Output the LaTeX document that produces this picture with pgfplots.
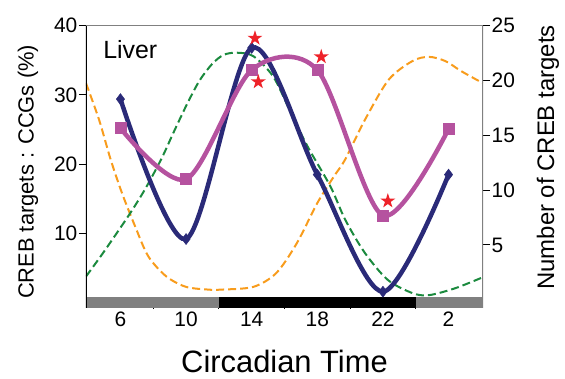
\documentclass[border=0pt]{standalone}
\usepackage{pgfplots}
\pgfplotsset{compat=1.18}
\usepackage{fontspec}
\setmainfont{Liberation Sans}
\definecolor{navy}{HTML}{2A2A78}
\definecolor{magen}{HTML}{B5529F}
\definecolor{dgreen}{HTML}{1B8A3E}
\definecolor{orng}{HTML}{F89C1C}
\definecolor{starred}{HTML}{EE2229}
\definecolor{bargray}{HTML}{808080}
\pgfdeclareplotmark{fstar}{%
  \pgfpathmoveto{\pgfqpoint{0pt}{\pgfplotmarksize}}%
  \pgfpathlineto{\pgfqpoint{-0.2245\pgfplotmarksize}{0.309\pgfplotmarksize}}%
  \pgfpathlineto{\pgfqpoint{-0.951\pgfplotmarksize}{0.309\pgfplotmarksize}}%
  \pgfpathlineto{\pgfqpoint{-0.363\pgfplotmarksize}{-0.118\pgfplotmarksize}}%
  \pgfpathlineto{\pgfqpoint{-0.588\pgfplotmarksize}{-0.809\pgfplotmarksize}}%
  \pgfpathlineto{\pgfqpoint{0pt}{-0.382\pgfplotmarksize}}%
  \pgfpathlineto{\pgfqpoint{0.588\pgfplotmarksize}{-0.809\pgfplotmarksize}}%
  \pgfpathlineto{\pgfqpoint{0.363\pgfplotmarksize}{-0.118\pgfplotmarksize}}%
  \pgfpathlineto{\pgfqpoint{0.951\pgfplotmarksize}{0.309\pgfplotmarksize}}%
  \pgfpathlineto{\pgfqpoint{0.2245\pgfplotmarksize}{0.309\pgfplotmarksize}}%
  \pgfpathclose\pgfusepathqfill}
\pgfplotsset{
  common/.style={
    scale only axis, width=397bp, height=282.3bp,
    xmin=3.9, xmax=28.1,
    tick align=outside, major tick length=7bp,
    tick style={black, line width=1bp},
    /pgf/number format/assume math mode=true,
    tick label style={font=\fontsize{21}{21}\selectfont},
    axis line style={draw=none},
  }
}
\begin{document}
\begin{tikzpicture}
\begin{axis}[common, name=ax,
  ymin=-0.75, ymax=40,
  ytick={10,20,30,40}, ytick pos=left,
  xtick={6,10,14,18,22,26}, xticklabels={6,10,14,18,22,2},
  xtick pos=bottom, xtick style={draw=none},
  yticklabel style={inner sep=1.5bp},
  xticklabel style={inner sep=1bp, yshift=4bp},
  ylabel={CREB targets : CCGs (\%)},
  ylabel style={font=\fontsize{22}{22}\selectfont, at={(axis description cs:-0.146,0.482)}, anchor=center},
  xlabel={Circadian Time},
  xlabel style={font=\fontsize{31}{31}\selectfont, at={(axis description cs:0.5,-0.229)}, anchor=base, inner sep=0pt},
  clip=true,
]
% light/dark bar
\addplot[fill=bargray, draw=none] coordinates {(3.9,-0.75) (3.9,0.85) (12,0.85) (12,-0.75)} -- cycle;
\addplot[fill=black, draw=none] coordinates {(12,-0.75) (12,0.85) (24,0.85) (24,-0.75)} -- cycle;
\addplot[fill=bargray, draw=none] coordinates {(24,-0.75) (24,0.85) (28.1,0.85) (28.1,-0.75)} -- cycle;
% orange dashed
\addplot[orng, line width=2bp, dash pattern=on 8bp off 4bp, smooth] coordinates {
(3.9,31.7) (4.7,26.4) (5.4,20.7) (6.1,15.8) (6.9,11.0) (7.7,6.7) (8.8,3.8)
(10.0,2.3) (11.4,1.9) (12.1,1.9) (14.1,2.3) (15.5,4.3) (16.75,8.6) (18.0,14.4)
(19.0,18.2) (19.7,20.7) (20.9,26.4) (22.35,32.2) (23.8,34.9) (24.8,35.5)
(25.8,34.9) (26.8,33.4) (28.1,31.7)};
% green dashed
\addplot[dgreen, line width=2bp, dash pattern=on 8bp off 4bp, smooth] coordinates {
(3.9,3.8) (5.0,7.4) (6.5,12.6) (7.5,16.4) (8.5,20.8) (9.2,24.4) (10.0,28.4)
(10.8,32.0) (11.6,34.5) (12.3,35.8) (13.1,36.1) (14.1,35.6) (15.3,32.7)
(16.3,27.9) (17.4,22.6) (18.8,16.8) (19.7,12.0) (20.9,7.2) (22.3,3.3)
(23.8,1.4) (24.8,1.1) (26.4,2.1) (28.1,3.7)};
% navy
\addplot[navy, line width=4.5bp, smooth, mark=diamond*, mark size=5.5bp, mark options={solid, fill=navy, line width=0.5bp}] coordinates {
(6,29.4) (10,9.2) (14,36.8) (18,18.5) (22,1.6) (26,18.5)};
\pgfplotsinvokeforeach{8,12,16,20,24}{\draw[black, line width=1bp] (axis cs:#1,-0.75) -- ++(0pt,-3bp);}
\draw[black, line width=1.5bp] (rel axis cs:0,0) -- (rel axis cs:0,1);
\draw[gray, line width=1bp] (rel axis cs:0,1) -- (rel axis cs:1,1);
\node[anchor=base west, font=\fontsize{25}{25}\selectfont, inner sep=0pt] at (rel axis cs:0.043,0.8845) {Liver};
\end{axis}
\begin{axis}[common,
  ymin=-0.75, ymax=25,
  axis x line=none,
  ytick={5,10,15,20,25}, ytick pos=right,
  yticklabel style={inner sep=1.5bp},
  ylabel={Number of CREB targets},
  ylabel style={font=\fontsize{24}{24}\selectfont, at={(axis description cs:1.1637,0.533)}, anchor=center, rotate=0},
  clip=true,
]
\addplot[magen, line width=4.5bp, smooth, mark=square*, mark size=5.5bp, mark options={solid, fill=magen, line width=0.5bp}] coordinates {
(6,15.65) (10,11.0) (14,20.96) (18,20.96) (22,7.69) (26,15.58)};
\addplot[only marks, mark=fstar, mark size=7.9bp, color=starred, fill=starred] coordinates {
(14.2,23.86) (14.4,19.88) (18.24,22.16) (22.3,9.01)};
\draw[gray, line width=1.5bp] (rel axis cs:1,0) -- (rel axis cs:1,1);
\end{axis}
\pgfresetboundingbox
\path[use as bounding box] (ax.south west) ++(-86bp,-71bp) rectangle ++(565bp,379bp);
\end{tikzpicture}
\end{document}
